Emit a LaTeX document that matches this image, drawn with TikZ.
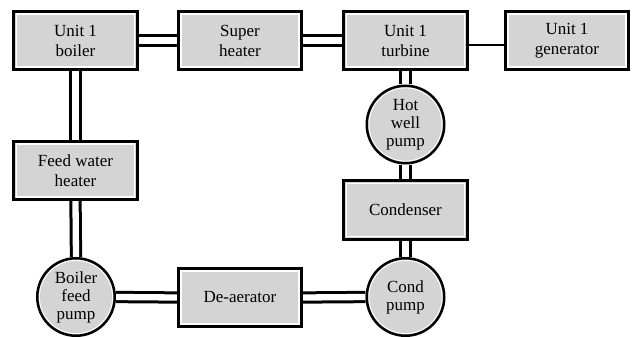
\documentclass[tikz,border=0pt]{standalone}
\usepackage{fontspec}
\setmainfont{Liberation Serif}
\usetikzlibrary{backgrounds}
\definecolor{boxgray}{RGB}{212,212,212}
\tikzset{
  unit/.style={draw=black, line width=2.7pt, fill=boxgray, rectangle,
    minimum width=123.5pt, minimum height=58.5pt, inner sep=0pt, align=center,
    font=\fontsize{17}{20}\selectfont,
    path picture={\draw[white, line width=1.3pt]
      ([shift={(2.7pt,-2.7pt)}]path picture bounding box.north west) rectangle
      ([shift={(-2.7pt,2.7pt)}]path picture bounding box.south east);}},
  pump/.style={draw=black, line width=2.5pt, fill=boxgray, circle,
    minimum size=77.5pt, inner sep=0pt, align=center,
    font=\fontsize{17}{18}\selectfont,
    path picture={\draw[white, line width=0.9pt]
      (path picture bounding box.center) circle (36.6pt);}},
  pipe/.style={draw=black, line width=3pt, double=white, double distance=6.3pt},
  shaft/.style={draw=black, line width=2.6pt}
}
\begin{document}
\begin{tikzpicture}[x=1pt, y=-1pt]
\useasboundingbox (0,0) rectangle (632,337);
\node[unit] (boiler) at (75.5,40.5) {Unit 1\\boiler};
\node[unit] (super) at (240,40.5) {Super\\heater};
\node[unit] (turbine) at (405.5,40.5) {Unit 1\\turbine};
\node[unit] (gen) at (567,40.5) {Unit 1\\generator};
\node[unit] (fwh) at (75.5,170.5) {Feed water\\heater};
\node[pump] (bfp) at (76,297) {Boiler\\feed\\pump};
\node[unit] (dea) at (240,297.5) {De-aerator};
\node[unit] (cond) at (405.5,210) {Condenser};
\node[pump] (cpump) at (405.5,297) {Cond\\pump};
\node[pump] (hwp) at (405.5,124.5) {Hot\\well\\pump};
\begin{pgfonlayer}{background}
\fill[white] (0,0) rectangle (632,337);
\draw[pipe] (boiler.east) -- (super.west);
\draw[pipe] (super.east) -- (turbine.west);
\draw[shaft] ([yshift=-4.5pt]turbine.east) -- ([yshift=-4.5pt]gen.west);
\draw[pipe] (boiler.south) -- (fwh.north);
\draw[pipe] (fwh.south) -- (bfp.north);
\draw[pipe] (bfp.east) -- (dea.west);
\draw[pipe] (dea.east) -- (cpump.west);
\draw[pipe] (turbine.south) -- (hwp.north);
\draw[pipe] (hwp.south) -- (cond.north);
\draw[pipe] (cond.south) -- (cpump.north);
\end{pgfonlayer}
\end{tikzpicture}
\end{document}
